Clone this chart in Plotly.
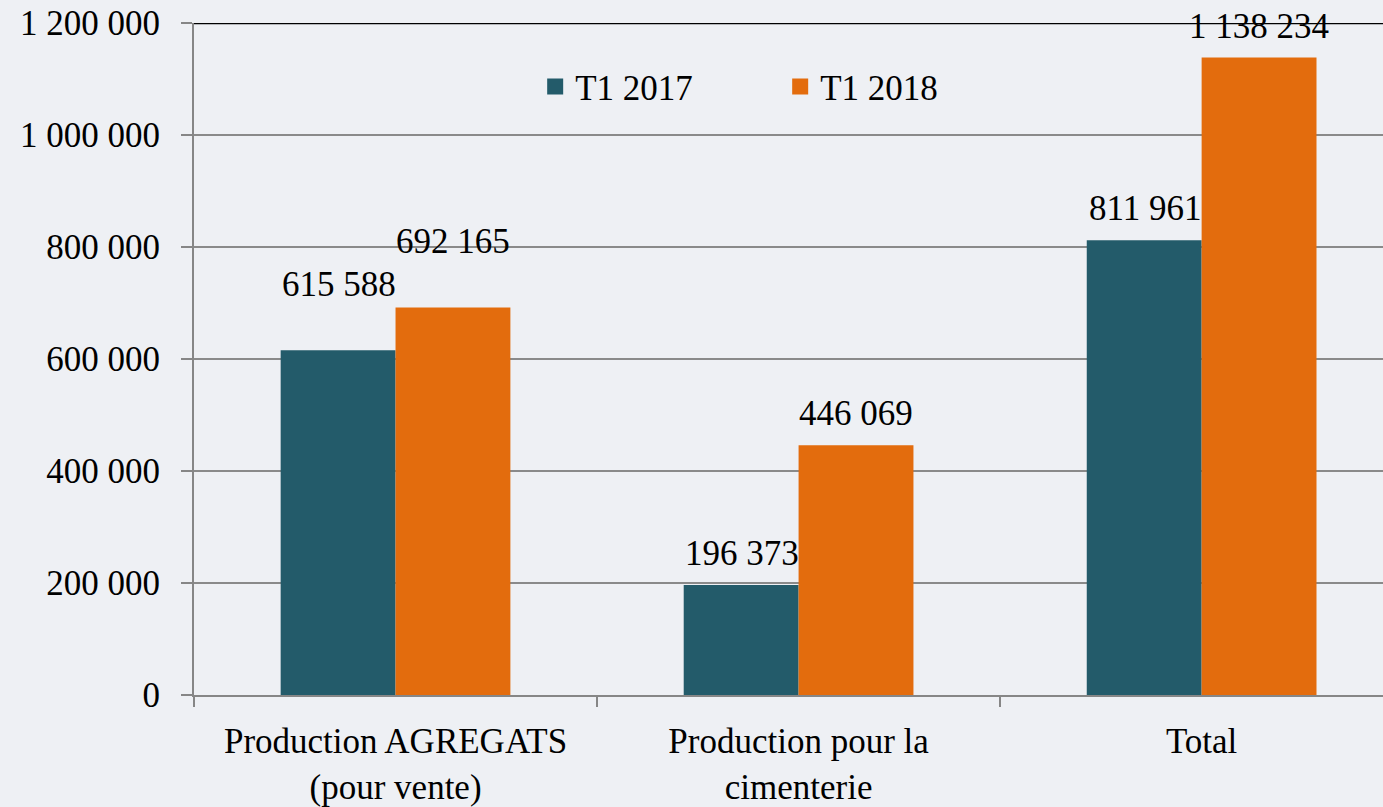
import plotly.graph_objects as go

categories = ["Production AGREGATS<br>(pour vente)", "Production pour la<br>cimenterie", "Total"]
series_names = ["T1 2017", "T1 2018"]
values_2017 = [615588, 196373, 811961]
values_2018 = [692165, 446069, 1138234]
y_ticks = [0, 200000, 400000, 600000, 800000, 1000000, 1200000]

colors = ["#235B6A", "#E36C0D"]
FONT = "Liberation Serif"
FS = 35
BG = "#eef0f4"
label_lift = [44, 10, 10]      # px lift of the value labels per category (style)
bar_offsets = [-57, 57]        # px offset of each series' label from category centre

fig = go.Figure()
for name, vals, col in zip(series_names, [values_2017, values_2018], colors):
    fig.add_trace(go.Bar(
        x=categories, y=vals, name=name, marker_color=col, marker_line_width=0,
        showlegend=False, cliponaxis=False,
    ))
    # legend entry with larger square symbol
    fig.add_trace(go.Scatter(
        x=[None], y=[None], mode="markers", name=name,
        marker=dict(symbol="square", size=18, color=col),
    ))

for vals, off in zip([values_2017, values_2018], bar_offsets):
    for cat, v, lift in zip(categories, vals, label_lift):
        fig.add_annotation(
            x=cat, y=v, xref="x", yref="y", text=f"{v:,}".replace(",", " "),
            showarrow=False, xanchor="center", yanchor="bottom",
            xshift=off, yshift=lift,
            font=dict(family=FONT, size=FS, color="black"),
        )

fig.add_shape(type="line", xref="paper", yref="y", x0=0, x1=1, y0=1200000, y1=1200000,
              line=dict(color="black", width=2.5), layer="below")

fig.update_layout(
    width=1383, height=807,
    margin=dict(l=194, r=0, t=23, b=110),
    paper_bgcolor=BG, plot_bgcolor="rgba(0,0,0,0)",
    separators=", ",
    barmode="group", bargap=0.43, bargroupgap=0,
    font=dict(family=FONT, size=FS, color="black"),
    showlegend=True,
    legend=dict(orientation="h", x=0.493, xanchor="center", y=0.905, yanchor="middle",
                font=dict(family=FONT, size=FS, color="black"), bgcolor="rgba(0,0,0,0)",
                itemwidth=30, traceorder="normal", entrywidth=200),
    xaxis=dict(range=[-0.5, 2.45], showgrid=False, showline=True, linecolor="#868686", linewidth=2,
               ticks="outside", tickson="boundaries", ticklen=10, tickcolor="#868686", tickwidth=1.5,
               ticklabelstandoff=14, tickfont=dict(family=FONT, size=FS, color="black")),
    yaxis=dict(range=[0, 1200000], tickvals=y_ticks, tickformat=",d", showgrid=True,
               gridcolor="#8a8a8a", gridwidth=2, showline=True, linecolor="#868686", linewidth=2,
               ticks="outside", ticklen=11, tickcolor="#868686", tickwidth=1.5,
               ticklabelstandoff=14, zeroline=False,
               tickfont=dict(family=FONT, size=FS, color="black")),
)

fig.write_html("out.html", config={"displayModeBar": False},
               post_script=f"document.body.style.margin='0';document.body.style.background='{BG}';")
